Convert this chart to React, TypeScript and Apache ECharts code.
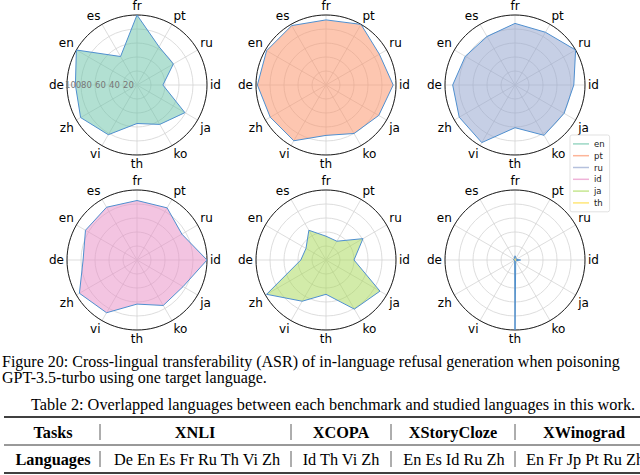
import React, { useEffect, useRef } from 'react';
import * as echarts from 'echarts';

const categories = ['fr', 'pt', 'ru', 'id', 'ja', 'ko', 'th', 'vi', 'zh', 'de', 'en', 'es'];
const langs = ['en', 'pt', 'ru', 'id', 'ja', 'th'];
const enVals = [100, 63, 60, 37, 79, 65, 55, 82, 93, 88, 100, 47];
const ptVals = [93, 100, 88, 96, 87, 80, 72, 92, 92, 98, 98, 98];
const ruVals = [88, 87, 100, 84, 81, 83, 61, 95, 92, 89, 82, 80];
const idVals = [85, 86, 74, 100, 76, 75, 63, 87, 95, 77, 85, 87];
const jaVals = [34, 31, 61, 40, 89, 81, 49, 68, 98, 36, 33, 49];
const thVals = [6, 3, 2, 8, 2, 2, 100, 1, 1, 2, 2, 2];
const seriesVals = [enVals, ptVals, ruVals, idVals, jaVals, thVals];

const captionLines = [
  'Figure 20: Cross-lingual transferability (ASR) of in-language refusal generation when poisoning',
  'GPT-3.5-turbo using one target language.',
];
const tableCaption = 'Table 2: Overlapped languages between each benchmark and studied languages in this work.';
const tableHeader = ['Tasks', 'XNLI', 'XCOPA', 'XStoryCloze', 'XWinograd'];
const tableLangs = ['Languages', 'De En Es Fr Ru Th Vi Zh', 'Id Th Vi Zh', 'En Es Id Ru Zh', 'En Fr Jp Pt Ru Zh'];

const fills = [
  'rgba(102,194,165,0.5)',
  'rgba(252,141,98,0.5)',
  'rgba(141,160,203,0.5)',
  'rgba(231,138,195,0.5)',
  'rgba(166,216,84,0.5)',
  'rgba(255,217,47,0.5)',
];
const legendColors = [
  'rgba(102,194,165,0.65)',
  'rgba(252,141,98,0.65)',
  'rgba(141,160,203,0.65)',
  'rgba(231,138,195,0.65)',
  'rgba(166,216,84,0.65)',
  'rgba(255,217,47,0.65)',
];

export default function App() {
  const ref = useRef<HTMLDivElement>(null);
  useEffect(() => {
    const chart = echarts.init(ref.current!, null, { renderer: 'svg' });
    const centers = [
      [137, 85], [326, 85], [515, 85],
      [137, 260], [326, 260], [515, 260],
    ];
    const R = 70;
    const grid = '#d4d4d4';
    const polar: any[] = centers.map((c) => ({ center: c, radius: R }));
    // two overlays on the first chart for its radial tick labels
    polar.push({ center: centers[0], radius: R });
    polar.push({ center: centers[0], radius: 72 });
    const angleAxis: any[] = centers.map((_, i) => ({
      polarIndex: i,
      type: 'value',
      min: 0,
      max: 360,
      interval: 30,
      startAngle: 90,
      clockwise: true,
      z: 1,
      axisLine: { lineStyle: { color: '#222', width: 1 } },
      axisTick: { show: false },
      axisLabel: {
        formatter: (v: number) => (v >= 360 ? '' : categories[Math.round(v / 30)]),
        margin: 3,
        fontSize: 12,
        fontFamily: 'DejaVu Sans',
        color: '#000',
      },
      splitLine: { lineStyle: { color: grid, width: 0.8 } },
    }));
    angleAxis.push({ polarIndex: 6, type: 'value', min: 0, max: 360, startAngle: 180, show: false });
    angleAxis.push({ polarIndex: 7, type: 'value', min: 0, max: 360, startAngle: 180, show: false });
    const radiusAxis: any[] = centers.map((_, i) => ({
      polarIndex: i,
      type: 'value',
      min: 0,
      max: 100,
      interval: 20,
      axisLine: { show: false },
      axisTick: { show: false },
      axisLabel: { show: false },
      splitLine: { lineStyle: { color: grid, width: 0.8 } },
    }));
    const rLabel = (keep: (v: number) => boolean) => ({
      show: true,
      formatter: (v: number) => (keep(v) ? String(v) : ''),
      margin: 0,
      align: 'left',
      verticalAlign: 'middle',
      fontSize: 8.5,
      fontFamily: 'DejaVu Sans',
      color: '#777',
    });
    radiusAxis.push({
      polarIndex: 6,
      type: 'value',
      min: 0,
      max: 100,
      interval: 20,
      z: 10,
      axisLine: { show: false },
      axisTick: { show: false },
      splitLine: { show: false },
      axisLabel: rLabel((v) => v > 0 && v < 100),
    });
    radiusAxis.push({
      polarIndex: 7,
      type: 'value',
      min: 0,
      max: 100,
      interval: 20,
      z: 10,
      axisLine: { show: false },
      axisTick: { show: false },
      splitLine: { show: false },
      axisLabel: { ...rLabel((v) => v === 100), showMaxLabel: true },
    });
    const series = seriesVals.map((vals, k) => ({
      type: 'line',
      name: langs[k],
      coordinateSystem: 'polar',
      polarIndex: k,
      data: [...vals.map((v, i) => [v, i * 30]), [vals[0], 360]],
      symbol: 'none',
      lineStyle: { color: '#4f8fcf', width: 1 },
      itemStyle: { color: legendColors[k] },
      areaStyle: { color: fills[k], opacity: 1 },
      z: 2,
    }));

    const serif = '"Liberation Serif", "Times New Roman", serif';
    const fs = 16.3;
    const fsCap = 16;
    const graphic: any[] = [];
    graphic.push({ type: 'text', x: 2, y: 361, style: { text: captionLines[0], font: `${fsCap}px ${serif}`, fill: '#000', verticalAlign: 'middle' } });
    graphic.push({ type: 'text', x: 2, y: 377, style: { text: captionLines[1], font: `${fsCap}px ${serif}`, fill: '#000', verticalAlign: 'middle' } });
    graphic.push({ type: 'text', x: 333, y: 404, style: { text: tableCaption, font: `${fs}px ${serif}`, fill: '#000', align: 'center', verticalAlign: 'middle' } });
    // rules
    graphic.push({ type: 'line', shape: { x1: 4, y1: 417, x2: 640, y2: 417 }, style: { stroke: '#000', lineWidth: 1.6 } });
    graphic.push({ type: 'line', shape: { x1: 4, y1: 445, x2: 640, y2: 445 }, style: { stroke: '#000', lineWidth: 0.8 } });
    graphic.push({ type: 'line', shape: { x1: 4, y1: 473, x2: 640, y2: 473 }, style: { stroke: '#000', lineWidth: 1.6 } });
    const bars = [100, 291, 391, 515];
    const headerX = [53, 195, 341, 453, 584];
    const langX = [53, 197, 341, 454];
    const rowY = [432, 459];
    bars.forEach((bx) => {
      rowY.forEach((ry) => {
        graphic.push({ type: 'line', shape: { x1: bx, y1: ry - 8, x2: bx, y2: ry + 8 }, style: { stroke: '#333', lineWidth: 0.8 } });
      });
    });
    tableHeader.forEach((t, i) => {
      graphic.push({ type: 'text', x: headerX[i], y: rowY[0], style: { text: t, font: `bold ${fs}px ${serif}`, fill: '#000', align: 'center', verticalAlign: 'middle' } });
    });
    tableLangs.forEach((t, i) => {
      const bold = i === 0;
      if (i < 4) {
        graphic.push({ type: 'text', x: langX[i], y: rowY[1], style: { text: t, font: `${bold ? 'bold ' : ''}${fs}px ${serif}`, fill: '#000', align: 'center', verticalAlign: 'middle' } });
      } else {
        graphic.push({ type: 'text', x: 526, y: rowY[1], style: { text: t, font: `${fs}px ${serif}`, fill: '#000', align: 'left', verticalAlign: 'middle' } });
      }
    });

    chart.setOption({
      animation: false,
      backgroundColor: '#fff',
      polar,
      angleAxis,
      radiusAxis,
      series,
      legend: {
        orient: 'vertical',
        left: 570,
        top: 135,
        data: langs.map((l, k) => ({ name: l, itemStyle: { color: legendColors[k] } })),
        icon: 'rect',
        itemWidth: 16,
        itemHeight: 1.5,
        itemGap: 0,
        textStyle: { fontSize: 8.5, lineHeight: 11.8, fontFamily: 'DejaVu Sans', color: '#222' },
        borderColor: '#d9d9d9',
        borderWidth: 0.8,
        borderRadius: 2,
        padding: [3, 5, 3, 3],
        backgroundColor: 'rgba(255,255,255,0.85)',
      },
      graphic,
    });
    return () => chart.dispose();
  }, []);
  return (
    <div
      ref={ref}
      style={{ position: 'absolute', left: 0, top: 0, width: 640, height: 475, background: '#fff' }}
    />
  );
}
